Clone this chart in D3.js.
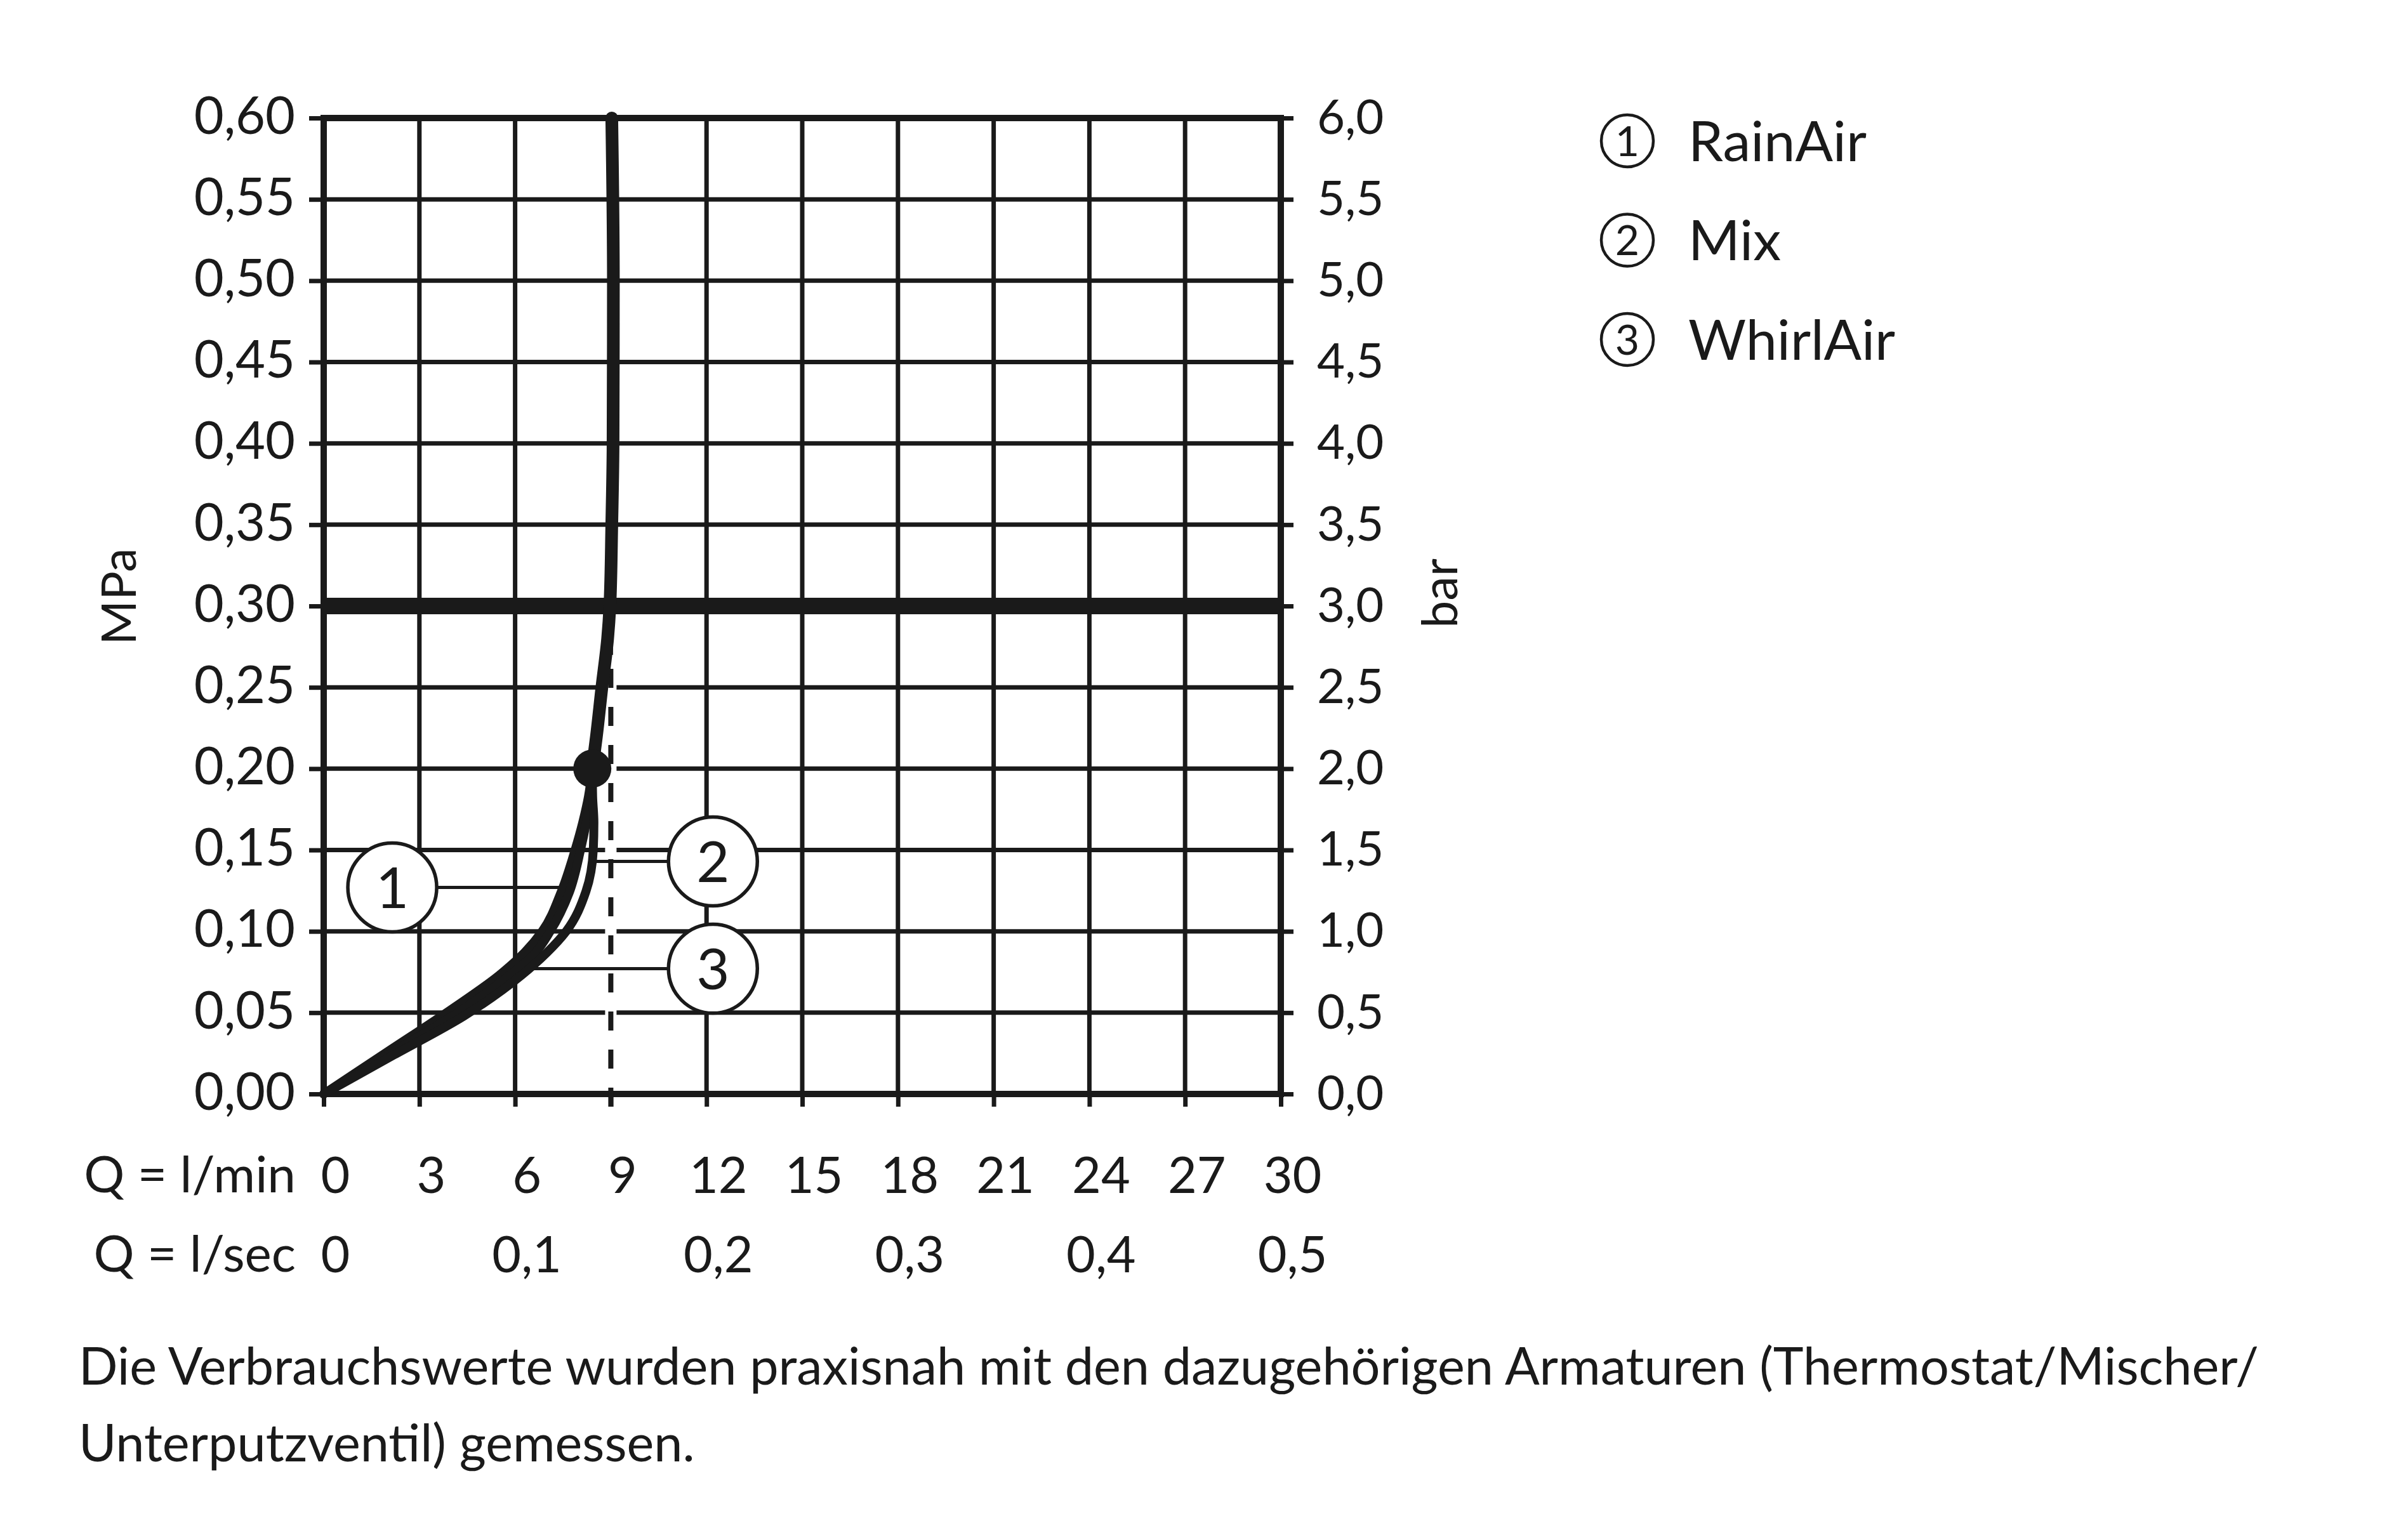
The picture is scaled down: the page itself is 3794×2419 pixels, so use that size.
<!DOCTYPE html>
<html>
<head>
<meta charset="utf-8">
<script src="https://cdn.jsdelivr.net/npm/d3@7"></script>
<style>
  body { margin: 0; background: #fff; }
  text { font-family: Lato, "Noto Sans", sans-serif; fill: #1a1a1a; }
</style>
</head>
<body>
<script>
// flow in l/min (bottom), l/sec (second row), pressure in MPa (left) and bar (right)
const flowTicks = [0, 3, 6, 9, 12, 15, 18, 21, 24, 27, 30]
const flowSecTicks = [0, 0.1, 0.2, 0.3, 0.4, 0.5]
const pressureTicks = [0, 0.05, 0.10, 0.15, 0.20, 0.25, 0.30, 0.35, 0.40, 0.45, 0.50, 0.55, 0.60]

const seriesNames = ["RainAir", "Mix", "WhirlAir"]

// [l/min, MPa]
const rainAir = [[0, 0], [2, 0.026], [4, 0.052], [5.5, 0.073], [6.3, 0.087], [6.85, 0.10],
  [7.45, 0.1245], [7.88, 0.15], [8.12, 0.167], [8.3, 0.183], [8.42, 0.20]]
const mix = [[0, 0], [2.2, 0.024], [4.4, 0.048], [6.2, 0.073], [7.0, 0.087], [7.6, 0.10],
  [8.22, 0.1245], [8.45, 0.15], [8.47, 0.167], [8.43, 0.183], [8.42, 0.20]]
const whirlAir = [[0, 0], [2.1, 0.025], [4.2, 0.050], [5.7, 0.071], [6.6, 0.086], [7.1, 0.10],
  [7.7, 0.124], [8.05, 0.15], [8.23, 0.167], [8.36, 0.183], [8.42, 0.20]]
// all three run together above the rated point
const commonPart = [[8.42, 0.20], [8.55, 0.22], [8.72, 0.25], [8.9, 0.28], [8.97, 0.30],
  [9.03, 0.35], [9.07, 0.40], [9.08, 0.50], [9.03, 0.60]]

const ratedPoint = [8.42, 0.20]
const refFlow = 9          // dashed reference flow
const refFlowTop = 0.27
const markPressure = 0.30  // heavy line

// callout number, point on curve, bubble centre
const callouts = [
  {n: 1, at: [7.45, 0.127], bubble: [2.15, 0.127]},
  {n: 2, at: [8.45, 0.143], bubble: [12.2, 0.143]},
  {n: 3, at: [6.27, 0.077], bubble: [12.2, 0.077]}
]

const footnote = [
  "Die Verbrauchswerte wurden praxisnah mit den dazugehörigen Armaturen (Thermostat/Mischer/",
  "Unterputzventil) gemessen."
]

const W = 3794, H = 2419
const ink = "#1a1a1a"
const svg = d3.select("body").append("svg").attr("width", W).attr("height", H)

const x = d3.scaleLinear().domain([0, 30]).range([510, 2018])
const xSec = d3.scaleLinear().domain([0, 0.5]).range([510, 2018])
const y = d3.scaleLinear().domain([0, 0.6]).range([1724, 186])

const fmt2 = v => d3.format(".2f")(v).replace(".", ",")
const fmt1 = v => d3.format(".1f")(v).replace(".", ",")

// grid
const grid = svg.append("g").attr("stroke", ink).attr("stroke-width", 7)
grid.selectAll("line.v").data(flowTicks.filter(d => d > 0 && d < 30 && d != refFlow)).join("line")
  .attr("class", "v")
  .attr("x1", d => x(d)).attr("x2", d => x(d)).attr("y1", y(0)).attr("y2", y(0.6))
grid.append("line")
  .attr("x1", x(refFlow)).attr("x2", x(refFlow)).attr("y1", y(refFlowTop)).attr("y2", y(0.6))
grid.selectAll("line.h").data(pressureTicks.filter(d => d > 0 && d < 0.6)).join("line")
  .attr("class", "h")
  .attr("x1", x(0)).attr("x2", x(30)).attr("y1", d => y(d)).attr("y2", d => y(d))

svg.append("line").attr("stroke", ink).attr("stroke-width", 26)
  .attr("x1", x(0)).attr("x2", x(30)).attr("y1", y(markPressure)).attr("y2", y(markPressure))

// frame
svg.append("rect").attr("fill", "none").attr("stroke", ink).attr("stroke-width", 10)
  .attr("x", x(0)).attr("y", y(0.6)).attr("width", x(30) - x(0)).attr("height", y(0) - y(0.6))

// dashed reference line with white halo
svg.append("line").attr("stroke", "#fff").attr("stroke-width", 18)
  .attr("x1", x(refFlow)).attr("x2", x(refFlow)).attr("y1", y(0) - 8).attr("y2", y(refFlowTop))
svg.append("line").attr("stroke", ink).attr("stroke-width", 8).attr("stroke-dasharray", "30 30")
  .attr("x1", x(refFlow)).attr("x2", x(refFlow)).attr("y1", y(0) + 20).attr("y2", y(refFlowTop))

// leaders
svg.append("g").attr("stroke", ink).attr("stroke-width", 5)
  .selectAll("line").data(callouts).join("line")
  .attr("x1", d => x(d.at[0])).attr("y1", d => y(d.at[1]))
  .attr("x2", d => x(d.bubble[0])).attr("y2", d => y(d.bubble[1]))

// curves
const line = d3.line().x(d => x(d[0])).y(d => y(d[1])).curve(d3.curveMonotoneY)
svg.append("g").attr("fill", "none").attr("stroke", ink).attr("stroke-width", 14)
  .attr("stroke-linecap", "round").attr("stroke-linejoin", "round")
  .selectAll("path").data([rainAir, whirlAir, mix]).join("path")
  .attr("d", line)
svg.append("path").datum(commonPart).attr("fill", "none").attr("stroke", ink)
  .attr("stroke-width", 20).attr("stroke-linecap", "round").attr("d", line)
svg.append("circle").attr("fill", ink)
  .attr("cx", x(ratedPoint[0])).attr("cy", y(ratedPoint[1])).attr("r", 30)

// callout bubbles
const bub = svg.append("g").selectAll("g").data(callouts).join("g")
  .attr("transform", d => `translate(${x(d.bubble[0])},${y(d.bubble[1])})`)
bub.append("circle").attr("r", 70).attr("fill", "#fff").attr("stroke", ink).attr("stroke-width", 5.5)
bub.append("text").attr("text-anchor", "middle").attr("dy", "0.36em").attr("font-size", 90)
  .text(d => d.n)

// axes
function styleAxis(g, size, family) {
  g.select(".domain").remove()
  g.selectAll(".tick line").attr("stroke", ink).attr("stroke-width", 7)
  g.selectAll("text").attr("font-size", size).attr("font-family", family).attr("fill", ink)
}

const left = svg.append("g").attr("transform", `translate(${x(0)},0)`)
  .call(d3.axisLeft(y).tickValues(pressureTicks).tickFormat(fmt2).tickSize(23).tickPadding(22))
styleAxis(left, 81, "Lato")
left.selectAll("text").attr("dy", "0.30em")

const right = svg.append("g").attr("transform", `translate(${x(30)},0)`)
  .call(d3.axisRight(y).tickValues(pressureTicks).tickFormat(v => fmt1(v * 10)).tickSize(20).tickPadding(37))
styleAxis(right, 76, "Liberation Sans")
right.selectAll("text").attr("dy", "0.32em")

const bottom = svg.append("g").attr("transform", `translate(0,${y(0)})`)
  .call(d3.axisBottom(x).tickValues(flowTicks).tickFormat(d => d).tickSize(20).tickPadding(80))
styleAxis(bottom, 79, "Lato")
bottom.selectAll("text").attr("dx", 18)

const bottomSec = svg.append("g").attr("transform", `translate(0,${y(0)})`)
  .call(d3.axisBottom(xSec).tickValues(flowSecTicks).tickFormat(v => v == 0 ? "0" : fmt1(v)).tickSize(0).tickPadding(225))
styleAxis(bottomSec, 79, "Lato")
bottomSec.selectAll("line").remove()
bottomSec.selectAll("text").attr("dx", 18)

svg.append("text").attr("x", 466).attr("y", 1879).attr("text-anchor", "end").attr("font-size", 80).text("Q = l/min")
svg.append("text").attr("x", 466).attr("y", 2004).attr("text-anchor", "end").attr("font-size", 80).text("Q = l/sec")

svg.append("text").attr("transform", "translate(214,940) rotate(-90)").attr("text-anchor", "middle")
  .attr("font-size", 76).text("MPa")
svg.append("text").attr("transform", "translate(2296,935) rotate(-90)").attr("text-anchor", "middle")
  .attr("font-size", 77).text("bar")

// legend
const leg = svg.append("g").selectAll("g").data(seriesNames).join("g")
  .attr("transform", (d, i) => `translate(2564,${222 + i * 156.5})`)
leg.append("circle").attr("r", 41).attr("fill", "none").attr("stroke", ink).attr("stroke-width", 4.5)
leg.append("text").attr("text-anchor", "middle").attr("dy", "0.36em").attr("font-size", 66)
  .text((d, i) => i + 1)
leg.append("text").attr("x", 96).attr("dy", "0.36em").attr("font-size", 88).text(d => d)

// footnote
svg.append("g").selectAll("text").data(footnote).join("text")
  .attr("x", 124).attr("y", (d, i) => 2182 + i * 121).attr("font-size", 81).text(d => d)
</script>
</body>
</html>
